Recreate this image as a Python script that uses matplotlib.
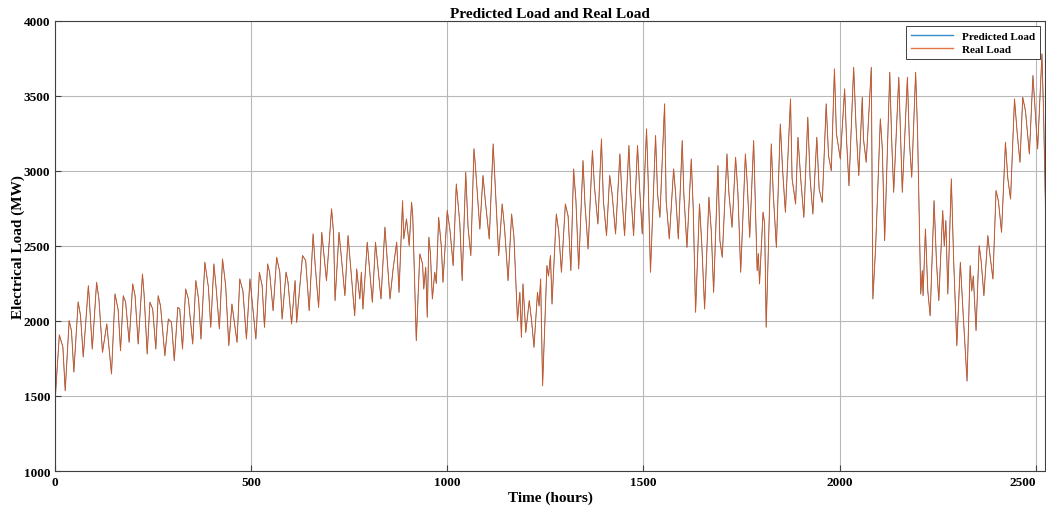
import matplotlib
matplotlib.use("Agg")
import matplotlib.pyplot as plt

plt.rcParams['font.family'] = ['Liberation Serif', 'DejaVu Serif']
plt.rcParams['font.weight'] = 'bold'

# daily highs, lows and shoulders of the load curve (hour, MW)
hours = [
    0, 11, 20, 26, 36, 42, 48, 59, 65, 72, 85, 88, 95, 106, 112, 121, 132, 144, 153, 161,
    167, 174, 180, 189, 198, 204, 212, 223, 227, 235, 242, 249, 257, 263, 269, 280, 289, 297, 304, 313,
    318, 325, 333, 340, 351, 359, 366, 372, 382, 391, 397, 405, 411, 419, 427, 435, 443, 451, 464, 471,
    479, 488, 497, 512, 521, 528, 534, 542, 547, 556, 565, 573, 579, 589, 594, 603, 612, 616, 631, 639,
    648, 658, 663, 672, 680, 692, 705, 710, 714, 724, 739, 747, 753, 764, 769, 777, 781, 785, 796, 809,
    817, 831, 841, 854, 862, 871, 877, 886, 889, 896, 903, 909, 912, 921, 930, 937, 940, 945, 949, 953,
    957, 962, 968, 972, 978, 985, 989, 1000, 1007, 1015, 1023, 1032, 1038, 1047, 1053, 1060, 1068, 1071, 1083, 1091,
    1097, 1107, 1117, 1122, 1131, 1140, 1146, 1155, 1164, 1170, 1179, 1185, 1189, 1193, 1200, 1209, 1215, 1221, 1230, 1234,
    1238, 1243, 1254, 1258, 1263, 1267, 1278, 1284, 1291, 1301, 1308, 1315, 1322, 1328, 1335, 1346, 1351, 1359, 1370, 1375,
    1384, 1393, 1398, 1406, 1414, 1420, 1429, 1440, 1446, 1452, 1463, 1468, 1475, 1485, 1490, 1497, 1508, 1512, 1518, 1531,
    1536, 1542, 1554, 1558, 1566, 1577, 1582, 1589, 1599, 1603, 1611, 1622, 1627, 1633, 1643, 1649, 1656, 1667, 1673, 1679,
    1690, 1695, 1701, 1713, 1718, 1726, 1735, 1741, 1748, 1760, 1765, 1771, 1781, 1790, 1793, 1796, 1805, 1809, 1813, 1826,
    1831, 1839, 1849, 1855, 1862, 1875, 1879, 1888, 1894, 1901, 1909, 1919, 1925, 1932, 1942, 1948, 1956, 1966, 1972, 1979,
    1987, 1992, 2002, 2013, 2018, 2024, 2036, 2042, 2049, 2058, 2061, 2068, 2081, 2085, 2092, 2104, 2109, 2115, 2128, 2133,
    2138, 2151, 2156, 2160, 2173, 2178, 2184, 2194, 2199, 2207, 2211, 2213, 2219, 2225, 2231, 2241, 2247, 2253, 2263, 2267,
    2271, 2276, 2285, 2291, 2299, 2308, 2314, 2325, 2333, 2337, 2341, 2348, 2356, 2361, 2368, 2378, 2383, 2391, 2399, 2405,
    2413, 2423, 2429, 2436, 2446, 2453, 2460, 2467, 2474, 2484, 2493, 2505, 2516, 2520, 2525,
]

real_load = [
    1460, 1907, 1827, 1535, 2002, 1933, 1660, 2127, 2035, 1760, 2235, 2120, 1813, 2258, 2145, 1791, 1980, 1647, 2180, 2073,
    1802, 2168, 2125, 1858, 2247, 2170, 1847, 2313, 2180, 1780, 2125, 2080, 1813, 2168, 2100, 1769, 2013, 1990, 1735, 2091,
    2080, 1813, 2213, 2147, 1847, 2269, 2147, 1880, 2391, 2225, 1958, 2380, 2213, 1947, 2413, 2236, 1836, 2113, 1858, 2280,
    2200, 1880, 2280, 1880, 2325, 2236, 1958, 2380, 2325, 2069, 2425, 2325, 2013, 2325, 2258, 1980, 2269, 1991, 2436, 2403,
    2069, 2580, 2380, 2091, 2591, 2269, 2747, 2591, 2136, 2591, 2169, 2569, 2380, 2035, 2347, 2147, 2325, 2080, 2525, 2125,
    2525, 2147, 2625, 2147, 2350, 2525, 2191, 2802, 2547, 2680, 2502, 2791, 2700, 1869, 2447, 2380, 2213, 2358, 2025, 2558,
    2450, 2147, 2325, 2250, 2691, 2491, 2258, 2736, 2602, 2369, 2913, 2650, 2269, 2991, 2625, 2436, 3147, 3058, 2613, 2969,
    2800, 2547, 3180, 2913, 2436, 2780, 2620, 2269, 2713, 2558, 2002, 2191, 1891, 2247, 1924, 2136, 2000, 1825, 2191, 2100,
    2280, 1569, 2369, 2300, 2436, 2113, 2713, 2600, 2325, 2780, 2700, 2336, 3013, 2800, 2347, 3069, 2780, 2480, 3136, 2900,
    2647, 3213, 2800, 2569, 2969, 2850, 2580, 3113, 2800, 2569, 3169, 2850, 2569, 3169, 2900, 2580, 3280, 2950, 2325, 3236,
    2850, 2691, 3447, 2800, 2547, 3013, 2850, 2547, 3202, 2850, 2491, 3080, 2750, 2058, 2780, 2500, 2080, 2825, 2600, 2191,
    3036, 2536, 2425, 3113, 2850, 2625, 3091, 2850, 2325, 3113, 2900, 2558, 3202, 2336, 2450, 2247, 2725, 2650, 1958, 3180,
    2850, 2491, 3313, 3000, 2725, 3480, 2950, 2780, 3224, 2950, 2691, 3358, 2950, 2713, 3224, 2880, 2791, 3447, 3100, 3002,
    3680, 3250, 3080, 3547, 3200, 2902, 3691, 3300, 2969, 3491, 3213, 3058, 3691, 2147, 2491, 3347, 3150, 2536, 3658, 3200,
    2858, 3625, 3200, 2858, 3625, 3200, 2958, 3658, 3250, 2180, 2336, 2169, 2613, 2200, 2035, 2802, 2400, 2136, 2736, 2500,
    2669, 2180, 2947, 2400, 1836, 2391, 2100, 1600, 2369, 2200, 2300, 1936, 2502, 2400, 2169, 2569, 2450, 2280, 2869, 2800,
    2591, 3191, 2950, 2813, 3480, 3250, 3058, 3491, 3400, 3113, 3636, 3147, 3780, 3400, 2760,
]

# forecast follows the measured load almost exactly
pred_load = list(real_load)

fig, ax = plt.subplots(figsize=(10.46, 5.10), dpi=100)
fig.subplots_adjust(left=0.0526, right=0.9995, top=0.957, bottom=0.0745)

ax.plot(hours, pred_load, color=(0, 0.447, 0.741), lw=0.4, label='Predicted Load')
ax.plot(hours, real_load, color=(0.85, 0.325, 0.098), lw=0.7, alpha=0.9, label='Real Load')

ax.set_xlim(0, 2525)
ax.set_ylim(1000, 4000)
ax.set_xticks([0, 500, 1000, 1500, 2000, 2500])
ax.set_yticks([1000, 1500, 2000, 2500, 3000, 3500, 4000])
ax.grid(True, color='#b8b8b8', lw=0.8)
ax.tick_params(direction='in', labelsize=9.5, length=4, color='#404040')
for s in ax.spines.values():
    s.set_color('#404040')
    s.set_linewidth(0.8)
# keep the last x tick label inside the canvas
ax.get_xticklabels()[-1].set_horizontalalignment('right')
ax.get_xticklabels()[-1].set_x(2535)

ax.set_title('Predicted Load and Real Load', fontsize=11, fontweight='bold', pad=3)
ax.set_xlabel('Time (hours)', fontsize=11, fontweight='bold', labelpad=2)
ax.set_ylabel('Electrical Load (MW)', fontsize=11, fontweight='bold', labelpad=-1)

leg = ax.legend(loc='upper right', fontsize=8, fancybox=False, framealpha=1,
                edgecolor='#404040', borderaxespad=0.5, handlelength=3.8,
                borderpad=0.45, labelspacing=0.3)
leg.get_frame().set_linewidth(0.7)
for h in leg.get_lines():
    h.set_linewidth(1.0)
    h.set_alpha(0.8)

fig.savefig('out.png', dpi=100)
